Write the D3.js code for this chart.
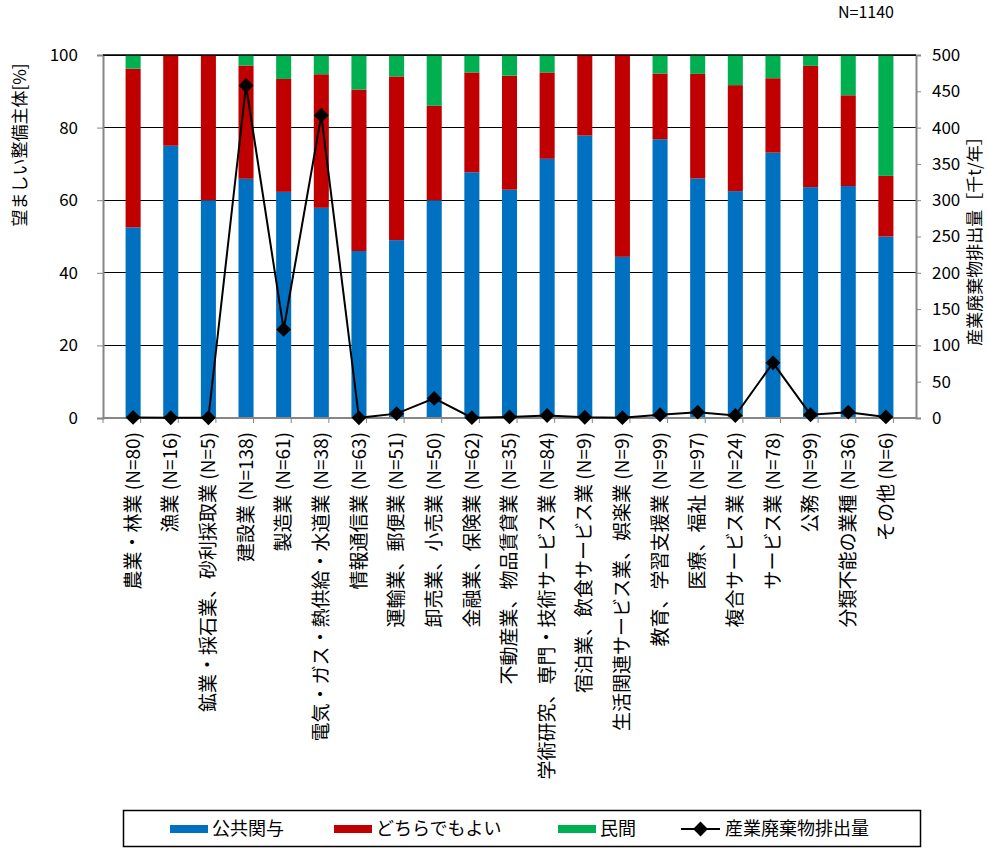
<!DOCTYPE html>
<html>
<head>
<meta charset="utf-8">
<script src="https://cdn.jsdelivr.net/npm/d3@7"></script>
<style>
  body { margin: 0; background: #fff; }
  text { font-family: "Noto Sans CJK JP", "Noto Sans", sans-serif; fill: #000; }
</style>
</head>
<body>
<div id="chart"></div>
<script>
// categories (x axis)
var categories = ["農業・林業 (N=80)", "漁業 (N=16)", "鉱業・採石業、砂利採取業 (N=5)", "建設業 (N=138)",
  "製造業 (N=61)", "電気・ガス・熱供給・水道業 (N=38)", "情報通信業 (N=63)", "運輸業、郵便業 (N=51)",
  "卸売業、小売業 (N=50)", "金融業、保険業 (N=62)", "不動産業、物品賃貸業 (N=35)",
  "学術研究、専門・技術サービス業 (N=84)", "宿泊業、飲食サービス業 (N=9)", "生活関連サービス業、娯楽業 (N=9)",
  "教育、学習支援業 (N=99)", "医療、福祉 (N=97)", "複合サービス業 (N=24)", "サービス業 (N=78)",
  "公務 (N=99)", "分類不能の業種 (N=36)", "その他 (N=6)"];

// stacked shares [%]
var kokyo   = [52.5, 75.0, 60.0, 65.9, 62.3, 57.9, 46.0, 49.0, 60.0, 67.7, 62.9, 71.4, 77.8, 44.4, 76.8, 66.0, 62.5, 73.1, 63.6, 63.9, 50.0];
var dochira = [43.75, 25.0, 40.0, 31.2, 31.1, 36.8, 44.5, 45.1, 26.0, 27.5, 31.4, 23.8, 22.2, 55.6, 18.1, 28.8, 29.2, 20.5, 33.4, 25.0, 16.7];
var minkan  = [3.75, 0, 0, 2.9, 6.6, 5.3, 9.5, 5.9, 14.0, 4.8, 5.7, 4.8, 0, 0, 5.1, 5.2, 8.3, 6.4, 3.0, 11.1, 33.3];

// industrial waste [thousand t / year]
var haishutsu = [0.8, 0.3, 0.3, 458, 122, 417, 0.2, 6, 27, 0.5, 1.5, 3.5, 1, 0.5, 4.5, 8, 3.5, 76, 4.5, 8, 1.5];

var leftTicks = [0, 20, 40, 60, 80, 100];
var rightTicks = [0, 50, 100, 150, 200, 250, 300, 350, 400, 450, 500];

var seriesNames = ["公共関与", "どちらでもよい", "民間"];
var colors = ["#0070C0", "#C00000", "#00B050"];
var lineName = "産業廃棄物排出量";

// set the dimensions and margins of the graph
var margin = {top: 55, right: 72, bottom: 430, left: 103},
    width = 988 - margin.left - margin.right,
    height = 848 - margin.top - margin.bottom;

var svg = d3.select("#chart").append("svg")
    .attr("width", 988)
    .attr("height", 848);

var g = svg.append("g")
    .attr("transform", "translate(" + margin.left + "," + margin.top + ")");

var x = d3.scaleBand()
    .domain(categories)
    .range([0, width])
    .padding(0.6);
var y = d3.scaleLinear().domain([0, 100]).range([height, 0]);
var y2 = d3.scaleLinear().domain([0, 500]).range([height, 0]);

// gridlines
g.selectAll(".grid")
    .data(leftTicks.slice(1))
  .enter().append("line")
    .attr("x1", 0).attr("x2", width)
    .attr("y1", function(d) { return y(d); })
    .attr("y2", function(d) { return y(d); })
    .attr("stroke", "#000")
    .attr("stroke-width", 1)
    .attr("shape-rendering", "crispEdges");

// stacked bars
var table = categories.map(function(c, i) {
  return {cat: c, a: kokyo[i], b: dochira[i], c: minkan[i]};
});
var stack = d3.stack().keys(["a", "b", "c"])(table);

g.selectAll(".layer")
    .data(stack)
  .enter().append("g")
    .attr("fill", function(d, i) { return colors[i]; })
  .selectAll("rect")
    .data(function(d) { return d; })
  .enter().append("rect")
    .attr("x", function(d) { return x(d.data.cat); })
    .attr("width", x.bandwidth())
    .attr("y", function(d) { return y(d[1]); })
    .attr("height", function(d) { return y(d[0]) - y(d[1]); });

// axes
var axisColor = "#868686";

var xTicks = g.append("g").attr("transform", "translate(0," + height + ")");
xTicks.append("line")
    .attr("x1", 0).attr("x2", width)
    .attr("stroke", axisColor).attr("stroke-width", 2);
xTicks.selectAll(".tk")
    .data(d3.range(categories.length + 1))
  .enter().append("line")
    .attr("x1", function(i) { return i * x.step(); })
    .attr("x2", function(i) { return i * x.step(); })
    .attr("y1", 0).attr("y2", 5)
    .attr("stroke", axisColor).attr("stroke-width", 1);

xTicks.selectAll(".lbl")
    .data(categories)
  .enter().append("text")
    .attr("transform", function(d) {
      return "translate(" + (x(d) + x.bandwidth() / 2) + ",14) rotate(-90)";
    })
    .attr("dy", "0.35em")
    .style("text-anchor", "end")
    .style("font-size", "19px")
    .text(function(d) { return d; });

var left = g.append("g")
    .call(d3.axisLeft(y).tickValues(leftTicks).tickSize(6).tickPadding(19));
var right = g.append("g")
    .attr("transform", "translate(" + width + ",0)")
    .call(d3.axisRight(y2).tickValues(rightTicks).tickSize(5).tickPadding(11));

[left, right].forEach(function(ax) {
  ax.select(".domain").attr("stroke", axisColor).attr("stroke-width", 2);
  ax.selectAll(".tick line").attr("stroke", axisColor);
  ax.selectAll(".tick text")
    .style("font-size", "17px")
    .style("font-family", "\"Noto Sans CJK JP\", sans-serif")
    .attr("fill", "#000");
});

// top border line
g.append("line")
    .attr("x1", 0).attr("x2", width)
    .attr("y1", 0).attr("y2", 0)
    .attr("stroke", "#000").attr("stroke-width", 1.5);

// line series
var line = d3.line()
    .x(function(d, i) { return x(categories[i]) + x.bandwidth() / 2; })
    .y(function(d) { return y2(d); });

g.append("path")
    .datum(haishutsu)
    .attr("fill", "none")
    .attr("stroke", "#000")
    .attr("stroke-width", 2)
    .attr("d", line);

var diamond = d3.symbol().type(d3.symbolSquare).size(110);
g.selectAll(".pt")
    .data(haishutsu)
  .enter().append("path")
    .attr("d", diamond)
    .attr("fill", "#000")
    .attr("transform", function(d, i) {
      return "translate(" + (x(categories[i]) + x.bandwidth() / 2) + "," + y2(d) + ") rotate(45)";
    });

// axis titles
svg.append("text")
    .attr("transform", "translate(26,145) rotate(-90)")
    .style("text-anchor", "middle")
    .style("font-size", "17px")
    .text("望ましい整備主体[%]");

svg.append("text")
    .attr("transform", "translate(981,237) rotate(-90)")
    .style("text-anchor", "middle")
    .style("font-size", "17px")
    .text("産業廃棄物排出量［千t/年］");

svg.append("text")
    .attr("x", 838).attr("y", 18)
    .style("font-size", "16px")
    .text("N=1140");

// legend
var legend = svg.append("g");
legend.append("rect")
    .attr("x", 123.5).attr("y", 810.5)
    .attr("width", 797).attr("height", 36)
    .attr("fill", "#fff")
    .attr("stroke", "#000").attr("stroke-width", 1.5);

var legendX = [170, 334, 558];
seriesNames.forEach(function(name, i) {
  legend.append("rect")
      .attr("x", legendX[i]).attr("y", 825)
      .attr("width", 38).attr("height", 8)
      .attr("fill", colors[i]);
  legend.append("text")
      .attr("x", legendX[i] + 42).attr("y", 829)
      .attr("dy", "0.35em")
      .style("font-size", "18px")
      .text(name);
});
legend.append("line")
    .attr("x1", 681).attr("x2", 720)
    .attr("y1", 829).attr("y2", 829)
    .attr("stroke", "#000").attr("stroke-width", 2);
legend.append("path")
    .attr("d", diamond)
    .attr("fill", "#000")
    .attr("transform", "translate(700.5,829) rotate(45)");
legend.append("text")
    .attr("x", 725).attr("y", 829)
    .attr("dy", "0.35em")
    .style("font-size", "18px")
    .text(lineName);
</script>
</body>
</html>
